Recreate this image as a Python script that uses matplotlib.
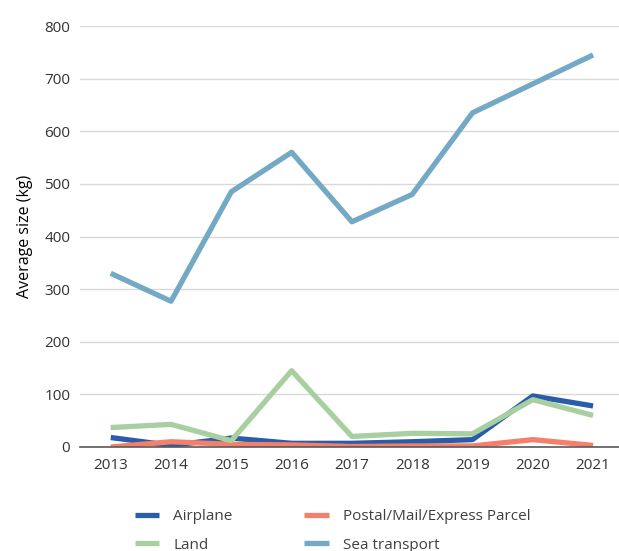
import matplotlib.pyplot as plt

plt.rcParams['font.family'] = ['Open Sans', 'DejaVu Sans']

years = [2013, 2014, 2015, 2016, 2017, 2018, 2019, 2020, 2021]
airplane = [18, 3, 17, 7, 7, 10, 14, 97, 78]
postal = [0, 10, 5, 4, 1, 2, 2, 14, 3]
land = [37, 43, 12, 145, 20, 26, 25, 90, 60]
sea = [330, 277, 485, 560, 428, 480, 635, 690, 745]

fig = plt.figure(figsize=(6.19, 5.51), dpi=100)
ax = fig.add_axes([80 / 619, 104 / 551, 539 / 619, 421 / 551])

ax.plot(years, airplane, color="#2a5caa", lw=3.8, label="Airplane", solid_capstyle="butt")
ax.plot(years, postal, color="#f47f6b", lw=3.8, label="Postal/Mail/Express Parcel", solid_capstyle="butt")
ax.plot(years, land, color="#a8cfa0", lw=3.8, label="Land", solid_capstyle="butt")
ax.plot(years, sea, color="#73a9c5", lw=3.8, label="Sea transport", solid_capstyle="butt")

ax.set_xlim(2012.49, 2021.43)
ax.set_ylim(0, 800)
ax.set_xticks(years)
ax.set_yticks(range(0, 801, 100))
ax.grid(axis="y", color="#d9d9d9", lw=1)
ax.set_axisbelow(True)
for s in ["top", "right", "left"]:
    ax.spines[s].set_visible(False)
ax.spines["bottom"].set_color("#595959")
ax.spines["bottom"].set_linewidth(1.2)
ax.tick_params(axis="both", length=0, labelsize=11, colors="#333333")
ax.tick_params(axis="y", pad=7)
ax.tick_params(axis="x", pad=8)
ax.set_ylabel("Average size (kg)", fontsize=11.5, color="#000000", labelpad=8)

handles, labels = ax.get_legend_handles_labels()
order = [0, 2, 1, 3]
ax.legend([handles[i] for i in order], [labels[i] for i in order], ncol=2,
          loc="upper left", bbox_to_anchor=(0.102, -0.147), frameon=False,
          fontsize=11, handlelength=1.6, columnspacing=4.7, labelcolor="#404040",
          handletextpad=0.9, borderpad=0, borderaxespad=0, labelspacing=0.9)

fig.savefig("out.png")
